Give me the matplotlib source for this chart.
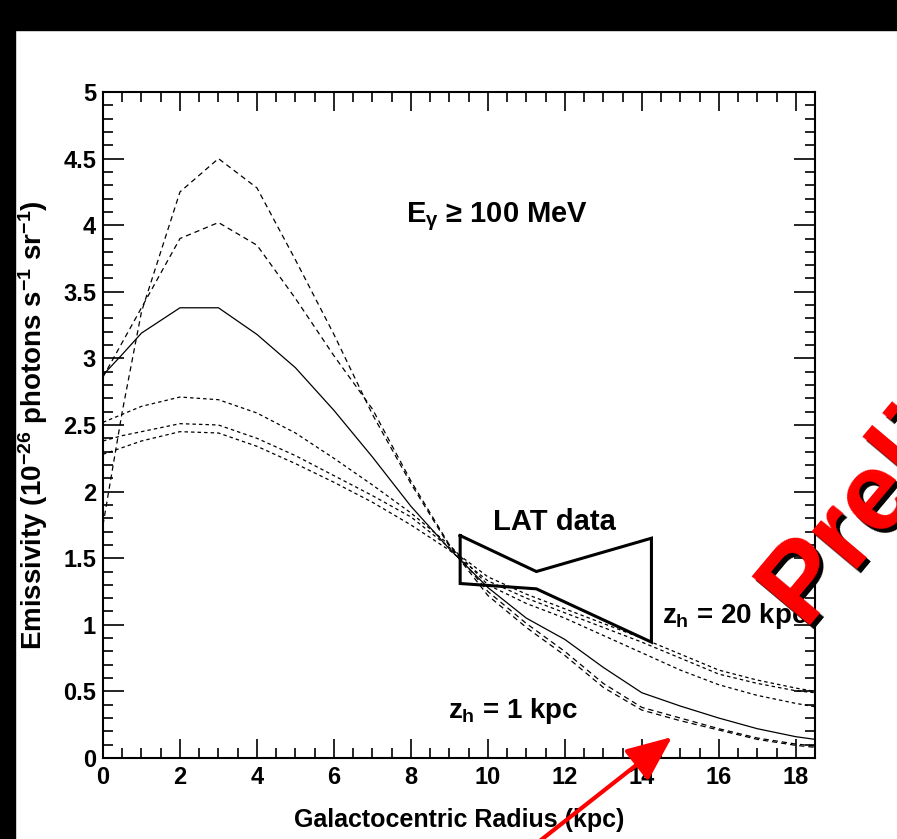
import matplotlib
matplotlib.use('Agg')
import matplotlib.pyplot as plt
import matplotlib.transforms as mtransforms
from matplotlib.patches import Rectangle

# galactocentric radius grid (kpc)
radius = [0, 0.5, 1, 2, 3, 4, 5, 6, 7, 8, 9, 10, 11, 12, 13, 14, 15, 16, 17, 18, 18.5]

# model emissivities (1e-26 photons s^-1 sr^-1), E > 100 MeV
emis_a = [1.75, 2.60, 3.35, 4.25, 4.50, 4.28, 3.74, 3.18, 2.58, 2.06, 1.59, 1.22, 0.98,
          0.77, 0.53, 0.36, 0.28, 0.21, 0.14, 0.095, 0.08]
emis_b = [2.86, 3.12, 3.38, 3.90, 4.02, 3.85, 3.45, 3.02, 2.62, 2.08, 1.60, 1.25, 1.01,
          0.80, 0.56, 0.38, 0.30, 0.22, 0.15, 0.105, 0.09]
emis_c = [2.875, 3.03, 3.19, 3.38, 3.38, 3.18, 2.93, 2.61, 2.26, 1.89, 1.57, 1.28, 1.05,
          0.89, 0.68, 0.49, 0.39, 0.30, 0.22, 0.16, 0.14]
emis_d = [2.52, 2.58, 2.64, 2.71, 2.69, 2.59, 2.44, 2.25, 2.05, 1.84, 1.60, 1.30, 1.16,
          1.05, 0.92, 0.79, 0.66, 0.55, 0.47, 0.41, 0.385]
emis_e = [2.38, 2.42, 2.45, 2.51, 2.50, 2.40, 2.27, 2.12, 1.97, 1.81, 1.58, 1.36, 1.23,
          1.12, 1.01, 0.90, 0.78, 0.66, 0.585, 0.525, 0.50]
emis_f = [2.28, 2.33, 2.38, 2.45, 2.44, 2.34, 2.21, 2.07, 1.92, 1.75, 1.56, 1.33, 1.20,
          1.09, 0.98, 0.87, 0.75, 0.63, 0.56, 0.505, 0.49]

# LAT butterfly outline
lat_r = [9.28, 11.26, 14.25, 14.25, 11.26, 9.28, 9.28]
lat_e = [1.67, 1.40, 1.65, 0.87, 1.27, 1.31, 1.67]

xticks = [0, 2, 4, 6, 8, 10, 12, 14, 16, 18]
xlabels = ['0', '2', '4', '6', '8', '10', '12', '14', '16', '18']
yticks = [0, 0.5, 1, 1.5, 2, 2.5, 3, 3.5, 4, 4.5, 5]
ylabels = ['0', '0.5', '1', '1.5', '2', '2.5', '3', '3.5', '4', '4.5', '5']

plt.rcParams['font.family'] = ['Liberation Sans', 'DejaVu Sans']
plt.rcParams['font.weight'] = 'bold'
plt.rcParams['axes.labelweight'] = 'bold'
plt.rcParams['mathtext.fontset'] = 'custom'
plt.rcParams['mathtext.rm'] = 'Liberation Sans:bold'
plt.rcParams['mathtext.it'] = 'Liberation Sans:bold'
plt.rcParams['mathtext.bf'] = 'Liberation Sans:bold'
plt.rcParams['lines.scale_dashes'] = False

W, H = 897, 839
fig = plt.figure(figsize=(W / 100, H / 100), dpi=100)
ax = fig.add_axes([103 / W, (H - 758) / H, (815 - 103) / W, (758 - 92) / H])

# black frame strips at top and left
fig.patches.append(Rectangle((0, (H - 30) / H), 1, 30 / H, transform=fig.transFigure,
                             color='black', zorder=0))
fig.patches.append(Rectangle((0, 0), 15 / W, 1, transform=fig.transFigure,
                             color='black', zorder=0))

lw = 0.9
ax.plot(radius, emis_a, color='black', lw=lw, dashes=(3.8, 2.8))
ax.plot(radius, emis_b, color='black', lw=lw, dashes=(3.8, 2.8))
ax.plot(radius, emis_c, color='black', lw=lw)
ax.plot(radius, emis_d, color='black', lw=lw, dashes=(2.5, 2.2))
ax.plot(radius, emis_e, color='black', lw=lw, dashes=(2.5, 2.2))
ax.plot(radius, emis_f, color='black', lw=lw, dashes=(2.5, 2.2))
ax.plot(lat_r, lat_e, color='black', lw=2.2, solid_joinstyle='miter')

ax.set_xlim(0, 18.5)
ax.set_ylim(0, 5)
ax.set_xticks(xticks)
ax.set_xticklabels(xlabels)
ax.set_xticks([i * 0.5 for i in range(38)], minor=True)
ax.set_yticks(yticks)
ax.set_yticklabels(ylabels)
ax.set_yticks([i * 0.1 for i in range(51)], minor=True)
ax.tick_params(axis='both', which='both', direction='in', top=True, right=True,
               width=1.2, labelsize=17)
ax.tick_params(axis='x', which='major', length=14, pad=6)
ax.tick_params(axis='y', which='major', length=15, pad=5)
ax.tick_params(axis='both', which='minor', length=7.5)
for s in ax.spines.values():
    s.set_linewidth(1.5)

ax.set_xlabel('Galactocentric Radius (kpc)', fontsize=18)
ax.xaxis.set_label_coords(0.5, -0.075)
ax.set_ylabel(r'Emissivity (10$^{-26}$ photons s$^{-1}$ sr$^{-1}$)', fontsize=20)
ax.yaxis.set_label_coords(-0.074, 0.5)

ax.text(10.25, 4.02, r'$E_{\gamma}$ ≥ 100 MeV', fontsize=21, ha='center', va='baseline')
ax.text(11.74, 1.71, 'LAT data', fontsize=21, ha='center', va='baseline')
ax.text(14.52, 1.013, r'$z_{h}$ = 20 kpc', fontsize=20, ha='left', va='baseline')
ax.text(8.96, 0.30, r'$z_{h}$ = 1 kpc', fontsize=20, ha='left', va='baseline')

# red arrow coming up from below the frame
ax.annotate('', xy=(672, H - 737), xycoords='figure pixels',
            xytext=(527, -12), textcoords='figure pixels',
            arrowprops=dict(arrowstyle='-|>,head_length=28,head_width=12',
                            mutation_scale=1, color='red', lw=3,
                            shrinkA=0, shrinkB=0),
            annotation_clip=False)

# watermark with drop shadow
shadow = mtransforms.offset_copy(fig.transFigure, fig=fig, x=4, y=-4, units='dots')
for tr, col in [(shadow, 'black'), (fig.transFigure, 'red')]:
    fig.text(803 / W, (H - 625) / H, 'Preliminary', transform=tr, color=col,
             fontsize=80, weight='bold', rotation=50,
             rotation_mode='anchor', ha='left', va='baseline')

fig.savefig('out.png', dpi=100)
